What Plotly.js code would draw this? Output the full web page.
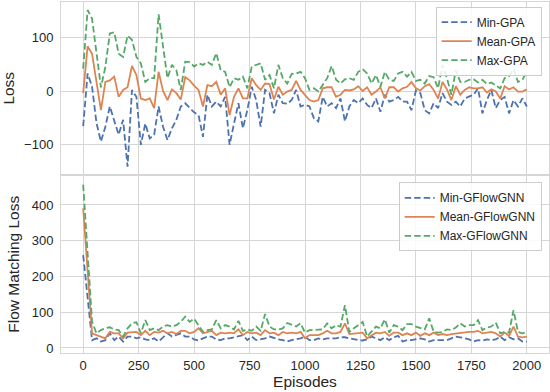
<!DOCTYPE html>
<html>
<head>
<meta charset="utf-8">
<script src="https://cdn.plot.ly/plotly-3.0.1.min.js"></script>
<style>
  html, body { margin: 0; padding: 0; background: #fff; }
  #chart { width: 550px; height: 392px; }
</style>
</head>
<body>
<div id="chart"></div>
<script>
// episodes sampled every 20
const episodes = [
  0, 20, 40, 60, 80, 100, 120, 140, 160, 180, 200, 220, 240, 260, 280, 300, 320, 340, 360, 380,
  400, 420, 440, 460, 480, 500, 520, 540, 560, 580, 600, 620, 640, 660, 680, 700, 720, 740, 760, 780,
  800, 820, 840, 860, 880, 900, 920, 940, 960, 980, 1000, 1020, 1040, 1060, 1080, 1100, 1120, 1140, 1160, 1180,
  1200, 1220, 1240, 1260, 1280, 1300, 1320, 1340, 1360, 1380, 1400, 1420, 1440, 1460, 1480, 1500, 1520, 1540, 1560, 1580,
  1600, 1620, 1640, 1660, 1680, 1700, 1720, 1740, 1760, 1780, 1800, 1820, 1840, 1860, 1880, 1900, 1920, 1940, 1960, 1980, 2000
];

// top panel: GPA loss
const minGPA = [
  -66, 33, 8, -60, -95, -67, -29, -57, -82, -54, -142, 2, -11, -101, -61, -89, -82, -29, -67, -92,
  -70, -54, -29, -23, -32, -40, -45, -86, -7, -29, -20, -29, -11, -101, -61, -23, -70, -36, 8, -17,
  -67, 2, -4, -42, -7, -23, -24, -17, 2, -29, -26, -29, -51, -57, -11, -29, -23, -32, -14, -57,
  -29, -17, -23, -14, -26, -32, -14, -39, -7, -20, -17, -11, -20, -20, -36, 1, -4, -36, -42, -23,
  -32, -4, -20, -26, -20, -29, -14, -11, -7, 5, -42, -17, 2, -32, -17, -11, -42, -17, -29, -14, -29
];
const meanGPA = [
  -4, 84, 70, 14, -36, 17, 20, 27, -11, 2, 7, 47, 30, -14, -17, -14, -32, 36, 0, -17,
  3, -4, -16, 26, 20, 10, 2, -29, 11, 9, 17, -7, 5, -45, -11, 5, -14, -14, 24, 11,
  2, 14, 13, -16, 8, -7, -1, 2, 19, 2, -7, -17, -20, -17, 5, 7, 7, -11, -7, 2,
  1, 3, 9, 0, 7, -7, -1, 7, -14, 7, 7, -1, 5, 8, 17, 5, 1, 9, 13, 2,
  -14, 17, 3, -17, 9, -7, 2, 7, 5, 5, 7, -3, 3, -1, -14, 9, 3, 7, -1, -1, 3
];
const maxGPA = [
  42, 152, 136, 70, 7, 45, 108, 110, 70, 64, 104, 96, 64, 52, 17, 24, 24, 144, 83, 24,
  49, 39, 2, 55, 54, 46, 52, 49, 55, 49, 71, 39, 36, 7, 24, 21, 27, 5, 46, 49,
  52, 21, 30, 5, 49, 24, 14, 32, 33, 36, 24, 2, 5, -1, 11, 24, 47, 21, 14, 22,
  24, 21, 36, 41, 33, 14, 30, 8, 36, 21, 19, 33, 36, 27, 36, 19, 21, 14, 28, 26,
  5, 49, 24, -7, 39, 17, 17, 21, 22, 16, 21, 13, 16, 11, 5, 24, 28, 42, 17, 21, 36
];

// bottom panel: flow matching loss
const minGFN = [
  260, 137, 22, 27, 18, 22, 41, 22, 32, 18, 32, 32, 27, 30, 24, 22, 27, 18, 30, 41,
  32, 36, 41, 32, 32, 24, 21, 27, 32, 32, 24, 22, 27, 27, 30, 32, 36, 22, 32, 22,
  24, 27, 32, 27, 24, 22, 18, 22, 24, 27, 32, 22, 22, 27, 24, 27, 27, 27, 30, 30,
  27, 24, 22, 21, 24, 32, 27, 22, 30, 22, 30, 34, 18, 22, 22, 24, 27, 24, 18, 22,
  22, 21, 22, 27, 32, 30, 27, 24, 18, 22, 21, 24, 22, 24, 32, 22, 30, 24, 27, 18, 18
];
const meanGFN = [
  391, 210, 41, 36, 32, 27, 45, 41, 41, 27, 43, 43, 45, 36, 48, 36, 45, 43, 48, 41,
  45, 39, 48, 48, 41, 45, 55, 41, 44, 48, 36, 43, 41, 43, 41, 52, 36, 45, 41, 43,
  36, 50, 41, 43, 36, 45, 41, 43, 41, 45, 27, 36, 36, 36, 41, 48, 41, 41, 45, 69,
  39, 41, 43, 43, 27, 36, 43, 41, 45, 34, 43, 43, 36, 41, 36, 43, 34, 41, 36, 43,
  36, 39, 36, 39, 41, 43, 45, 45, 45, 48, 41, 43, 45, 41, 32, 43, 34, 60, 32, 30, 32
];
const maxGFN = [
  457, 253, 74, 41, 50, 55, 58, 52, 50, 32, 55, 69, 72, 41, 78, 50, 55, 50, 60, 64,
  60, 64, 73, 88, 73, 82, 64, 45, 50, 52, 78, 55, 64, 60, 52, 76, 48, 52, 48, 60,
  48, 95, 60, 52, 52, 55, 70, 64, 60, 69, 43, 50, 50, 50, 52, 69, 55, 64, 60, 120,
  45, 55, 64, 73, 32, 45, 60, 55, 80, 43, 64, 60, 50, 67, 67, 60, 57, 52, 83, 45,
  43, 45, 52, 50, 57, 69, 60, 64, 64, 78, 50, 57, 60, 71, 41, 45, 43, 106, 45, 41, 45
];

const blue = '#4c72b0', orange = '#dd8452', green = '#55a868';
const dashed = '6.5px,3px';

const line = (y, name, color, dash, xa, ya, legend) => ({
  x: episodes, y: y, name: name, type: 'scatter', mode: 'lines',
  xaxis: xa, yaxis: ya, legend: legend,
  line: { color: color, width: 1.8, dash: dash }
});

const traces = [
  line(minGPA, 'Min-GPA', blue, dashed, 'x2', 'y2', 'legend'),
  line(meanGPA, 'Mean-GPA', orange, 'solid', 'x2', 'y2', 'legend'),
  line(maxGPA, 'Max-GPA', green, dashed, 'x2', 'y2', 'legend'),
  line(minGFN, 'Min-GFlowGNN', blue, dashed, 'x', 'y', 'legend2'),
  line(meanGFN, 'Mean-GFlowGNN', orange, 'solid', 'x', 'y', 'legend2'),
  line(maxGFN, 'Max-GFlowGNN', green, dashed, 'x', 'y', 'legend2')
];

const grid = '#d6d6d6';
const font = { family: 'Liberation Sans, Arial, sans-serif', size: 13, color: '#262626' };
const titleFont = { size: 15.5 };
const axisBase = {
  showgrid: true, gridcolor: grid, gridwidth: 1,
  showline: true, linecolor: grid, linewidth: 1, mirror: true,
  zeroline: false, ticks: '', ticklabelstandoff: 4
};
const legendBase = {
  bgcolor: 'rgba(255,255,255,0.85)', bordercolor: '#cccccc', borderwidth: 1,
  font: { family: font.family, size: 12, color: '#262626' },
  itemwidth: 30,
  xanchor: 'right', yanchor: 'top', x: 0.985
};

const layout = {
  width: 550, height: 392,
  margin: { l: 61, r: 1, t: 2, b: 39 },
  paper_bgcolor: '#fff', plot_bgcolor: '#fff',
  font: font,
  showlegend: true,
  xaxis: Object.assign({}, axisBase, {
    domain: [0, 1], anchor: 'y', range: [-100, 2100],
    tickvals: [0, 250, 500, 750, 1000, 1250, 1500, 1750, 2000],
    ticklabelstandoff: 0,
    title: { text: 'Episodes', font: titleFont, standoff: 2 }
  }),
  yaxis: Object.assign({}, axisBase, {
    domain: [0, 0.5057], anchor: 'x', range: [-14, 482.5],
    tickvals: [0, 100, 200, 300, 400],
    title: { text: 'Flow Matching Loss', font: titleFont, standoff: 8 }
  }),
  xaxis2: Object.assign({}, axisBase, {
    domain: [0, 1], anchor: 'y2', matches: 'x', range: [-100, 2100],
    tickvals: [0, 250, 500, 750, 1000, 1250, 1500, 1750, 2000],
    showticklabels: false
  }),
  yaxis2: Object.assign({}, axisBase, {
    domain: [0.5085, 1], anchor: 'x2', range: [-156.7, 167],
    tickvals: [-100, 0, 100],
    title: { text: 'Loss', font: titleFont, standoff: 8 }
  }),
  legend: Object.assign({}, legendBase, { y: 0.9866 }),
  legend2: Object.assign({}, legendBase, { y: 0.4863 })
};

Plotly.newPlot('chart', traces, layout, { displayModeBar: false, staticPlot: true });
</script>
</body>
</html>
